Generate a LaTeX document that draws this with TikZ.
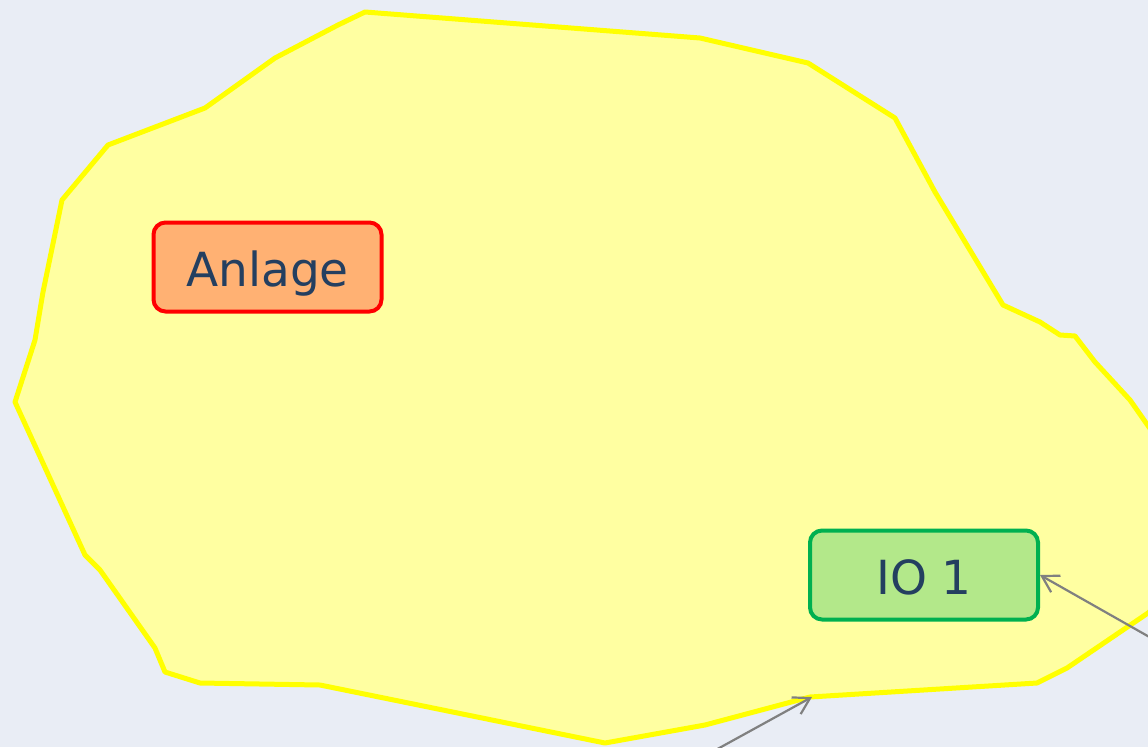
\documentclass[tikz,border=0pt]{standalone}
\usepackage{fontspec}
\setmainfont{DejaVu Sans}
\usetikzlibrary{arrows.meta}
\definecolor{bgblue}{HTML}{E9EDF5}
\definecolor{blobfill}{HTML}{FFFFA1}
\definecolor{blobline}{HTML}{FFFF00}
\definecolor{anlagefill}{HTML}{FFB173}
\definecolor{iofill}{HTML}{B3E88A}
\definecolor{iogreen}{HTML}{00B050}
\definecolor{textnavy}{HTML}{243F60}
\definecolor{linkgrey}{HTML}{808080}
\begin{document}
\begin{tikzpicture}[x=1pt, y=-1pt,
  box/.style = {rounded corners=12pt, line width=4pt, minimum width=228pt,
    minimum height=89pt, text height=38pt, text depth=0pt, text=textnavy,
    font=\fontsize{47}{56}\selectfont},
  link/.style = {draw=linkgrey, line width=2.2pt,
    -{Straight Barb[length=16pt, width=19pt]}}]
\useasboundingbox (0,0) rectangle (1148,747);
\fill[bgblue] (0,0) rectangle (1148,747);
\begin{scope}
\clip (0,0) rectangle (1148,747);
% the blob
\draw[fill=blobfill, draw=blobline, line width=5pt, line join=round]
  (365,12) -- (700,38) -- (808,63) -- (895,118) -- (935,192) -- (1003,305)
  -- (1040,322) -- (1060,335) -- (1075,336) -- (1095,362) -- (1130,400)
  -- (1165,450) -- (1175,590) -- (1148,613) -- (1067,668) -- (1037,683)
  -- (810,697) -- (705,725) -- (605,743) -- (320,685) -- (200,683)
  -- (165,672) -- (155,648) -- (100,570) -- (85,555) -- (15,402)
  -- (35,340) -- (43,292) -- (62,200) -- (108,145) -- (205,108)
  -- (275,58) -- (338,25) -- cycle;
\end{scope}
\node (anlage) at (267.5, 267) [box, draw=red, fill=anlagefill] {Anlage};
\node (io1) at (924, 575) [box, draw=iogreen, fill=iofill] {IO 1};
\coordinate (rightend) at (1160, 643);
\coordinate (bottomend) at (712, 752);
\coordinate (blobedge) at (812, 697);
\draw[link] (rightend) -- (io1.east);
\draw[link] (bottomend) -- (blobedge);
\end{tikzpicture}
\end{document}
